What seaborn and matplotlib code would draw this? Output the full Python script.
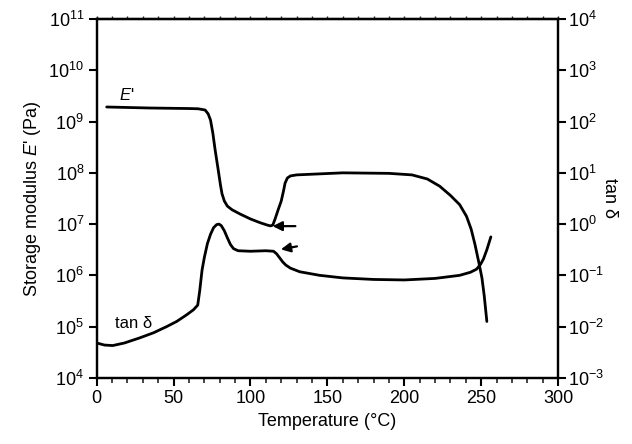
import numpy as np
import pandas as pd
import matplotlib
matplotlib.use("Agg")
import matplotlib.pyplot as plt
from matplotlib.ticker import LogLocator, MultipleLocator, NullLocator
import seaborn as sns

# E' curve (temperature in C, log10 of modulus in Pa)
e_temp = [6.5, 34.5, 60, 66, 70.5, 72.5, 74, 75.5, 77, 79, 80.5, 81.5, 83, 85, 88,
          93, 100, 106, 111, 113, 114.5, 116, 118, 120, 121.5, 122.5, 124, 126,
          130, 160, 190, 205, 215, 223, 230, 236, 240.5, 243.5, 246, 248.5, 250.5,
          252, 253.7]
e_log = [9.285, 9.265, 9.255, 9.25, 9.226, 9.15, 9.03, 8.78, 8.45, 8.06, 7.76, 7.59,
         7.45, 7.35, 7.28, 7.2, 7.10, 7.03, 6.98, 6.965, 6.98, 7.1, 7.28, 7.45, 7.65,
         7.80, 7.9, 7.94, 7.96, 8.0, 7.99, 7.96, 7.88, 7.74, 7.56, 7.38, 7.15, 6.9,
         6.6, 6.25, 5.95, 5.6, 5.1]

# tan delta curve (log10 of tan delta)
t_temp = [0, 5, 10.4, 18, 28, 37, 45.5, 52, 58.5, 63, 65.7, 67, 68.5, 70, 72, 74,
          76, 78, 79.5, 81, 83, 85, 87, 89, 92, 100, 110, 115, 117, 119, 121, 123,
          126, 132, 145, 160, 180, 200, 220, 236, 243, 247, 249.5, 251.5, 253.7,
          256.3]
t_log = [-2.32, -2.36, -2.37, -2.32, -2.22, -2.12, -2.0, -1.9, -1.77, -1.67, -1.58,
         -1.3, -0.9, -0.65, -0.38, -0.2, -0.07, -0.01, 0.0, -0.03, -0.13, -0.27,
         -0.4, -0.48, -0.52, -0.53, -0.52, -0.53, -0.58, -0.66, -0.74, -0.8, -0.86,
         -0.93, -1.0, -1.05, -1.08, -1.09, -1.06, -1.0, -0.94, -0.88, -0.79, -0.68,
         -0.5, -0.25]

e_df = pd.DataFrame({"T": e_temp, "E": np.power(10.0, e_log)})
t_df = pd.DataFrame({"T": t_temp, "tan": np.power(10.0, t_log)})

sns.set_theme(style="ticks")
plt.rcParams["font.family"] = ["Liberation Sans", "DejaVu Sans"]
plt.rcParams["mathtext.fontset"] = "custom"
plt.rcParams["mathtext.rm"] = "Liberation Sans"
plt.rcParams["mathtext.it"] = "Liberation Sans:italic"
plt.rcParams["text.color"] = "black"
plt.rcParams["axes.labelcolor"] = "black"

fig, ax = plt.subplots(figsize=(6.32, 4.44), dpi=100)
fig.subplots_adjust(left=0.153, right=0.883, top=0.957, bottom=0.149)

sns.lineplot(data=e_df, x="T", y="E", ax=ax, sort=False, estimator=None,
             color="black", lw=2)
ax.set_yscale("log")
ax.set_xlim(0, 300)
ax.set_ylim(1e4, 1e11)

ax2 = ax.twinx()
sns.lineplot(data=t_df, x="T", y="tan", ax=ax2, sort=False, estimator=None,
             color="black", lw=2)
ax2.set_yscale("log")
ax2.set_ylim(1e-3, 1e4)

# arrows
ax.annotate("", xy=(112.6, 10**6.96), xytext=(131, 10**6.96),
            arrowprops=dict(arrowstyle="-|>", color="black", lw=1.6, mutation_scale=14))
ax2.annotate("", xy=(118, 10**-0.503), xytext=(132, 10**-0.425),
             arrowprops=dict(arrowstyle="-|>", color="black", lw=1.6, mutation_scale=14))

ax.text(19.5, 10**9.52, "$E$'", fontsize=12, ha="center", va="center")
ax.text(24, 10**5.07, "tan δ", fontsize=12, ha="center", va="center")

ax.set_xlabel("Temperature (°C)", fontsize=13)
ax.set_ylabel("Storage modulus $E$' (Pa)", fontsize=13)
ax2.set_ylabel("tan δ", fontsize=13, rotation=270, labelpad=10)

ax.xaxis.set_major_locator(MultipleLocator(50))
ax.xaxis.set_minor_locator(MultipleLocator(10))
ax.yaxis.set_major_locator(LogLocator(base=10, numticks=20))
ax.yaxis.set_minor_locator(NullLocator())
ax2.yaxis.set_major_locator(LogLocator(base=10, numticks=20))
ax2.yaxis.set_minor_locator(NullLocator())

ax.tick_params(axis="both", which="major", labelsize=13, length=6, width=1.5,
               direction="out", colors="black", pad=3)
ax.tick_params(axis="x", which="minor", length=3.5, width=1.2, direction="out")
ax2.tick_params(axis="y", which="major", labelsize=13, length=6, width=1.5,
                direction="out", colors="black", pad=1)

# very short ticks along the top edge
ax_top = ax.secondary_xaxis("top")
ax_top.xaxis.set_major_locator(MultipleLocator(10))
ax_top.tick_params(axis="x", length=2, width=1.0, direction="out", labeltop=False)
ax_top.spines["top"].set_linewidth(1.6)
ax.tick_params(axis="x", which="both", top=False)

for a in (ax, ax2):
    for s in a.spines.values():
        s.set_linewidth(1.6)
        s.set_color("black")
        s.set_visible(True)

fig.savefig("out.png", dpi=100)
